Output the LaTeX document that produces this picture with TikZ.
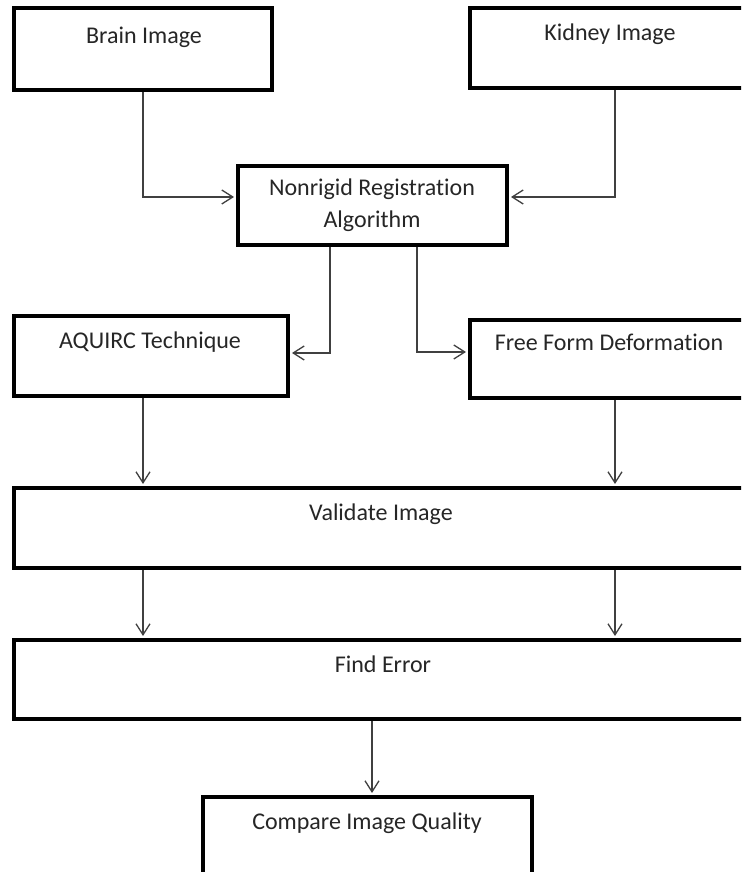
\documentclass[tikz,border=0pt]{standalone}
\usepackage{fontspec}
\setmainfont{Carlito}[Ligatures={NoCommon}]
\usetikzlibrary{arrows.meta}

\begin{document}
\begin{tikzpicture}[x=1pt, y=1pt,
		box/.style={draw=black, line width=4pt, rectangle, inner sep=0pt},
		txt/.style={anchor=base, inner sep=0pt, align=center, font=\fontsize{24}{32}\selectfont, text=black!85},
		arr/.style={draw=black!75, line width=1.3pt, shorten >=2pt, -{Straight Barb[length=11pt, width=14pt]}}]
			%%%%% START %%%%%
			
			\useasboundingbox (0,0) rectangle (741,872);
			\fill[white] (0,0) rectangle (741,872);
			\clip (0,0) rectangle (741,872);
			
			\coordinate (lft) at (143, 0);
			\coordinate (rgt) at (615, 0);
			\coordinate (mid) at (372, 0);
			
			\node[box, minimum width=258pt, minimum height=82pt] (brain) at (143, 823) {};
			\node[txt] (brainlbl) at (144, 828) {Brain Image};
			
			\node[box, minimum width=290pt, minimum height=80pt] (kidney) at (615, 824) {};
			\node[txt] (kidneylbl) at (610, 831) {Kidney Image};
			
			\node[box, minimum width=269pt, minimum height=79pt] (nonrigid) at (372.5, 666.5) {};
			\node[txt] (nonrigidlbl) at (372, 644) {Nonrigid Registration\\Algorithm};
			
			\node[box, minimum width=274pt, minimum height=80pt] (aquirc) at (151, 516) {};
			\node[txt] (aquirclbl) at (150, 523) {AQUIRC Technique};
			
			\node[box, minimum width=286pt, minimum height=78pt] (ffd) at (613, 513) {};
			\node[txt] (ffdlbl) at (609, 521) {Free Form Deformation};
			
			\node[box, minimum width=736pt, minimum height=80pt] (validate) at (382, 344) {};
			\node[txt] (validatelbl) at (381, 351) {Validate Image};
			
			\node[box, minimum width=736pt, minimum height=79pt] (finderror) at (382, 192.5) {};
			\node[txt] (finderrorlbl) at (383, 199) {Find Error};
			
			\node[box, minimum width=329pt, minimum height=100pt] (compare) at (367.5, 25) {};
			\node[txt] (comparelbl) at (367, 42) {Compare Image Quality};
			
			% connectors
			\draw[arr] (lft |- brain.south) |- ([yshift=8.5pt]nonrigid.west);
			\draw[arr] (rgt |- kidney.south) |- ([yshift=8.5pt]nonrigid.east);
			\draw[arr] ([xshift=-42.5pt]nonrigid.south) |- ([yshift=3pt]aquirc.east);
			\draw[arr] ([xshift=44.5pt]nonrigid.south) |- ([yshift=7pt]ffd.west);
			\draw[arr] (lft |- aquirc.south) -- (lft |- validate.north);
			\draw[arr] (rgt |- ffd.south) -- (rgt |- validate.north);
			\draw[arr] (lft |- validate.south) -- (lft |- finderror.north);
			\draw[arr] (rgt |- validate.south) -- (rgt |- finderror.north);
			\draw[arr] (mid |- finderror.south) -- (mid |- compare.north);
			
			%%%%% END %%%%%
		\end{tikzpicture}
\end{document}
